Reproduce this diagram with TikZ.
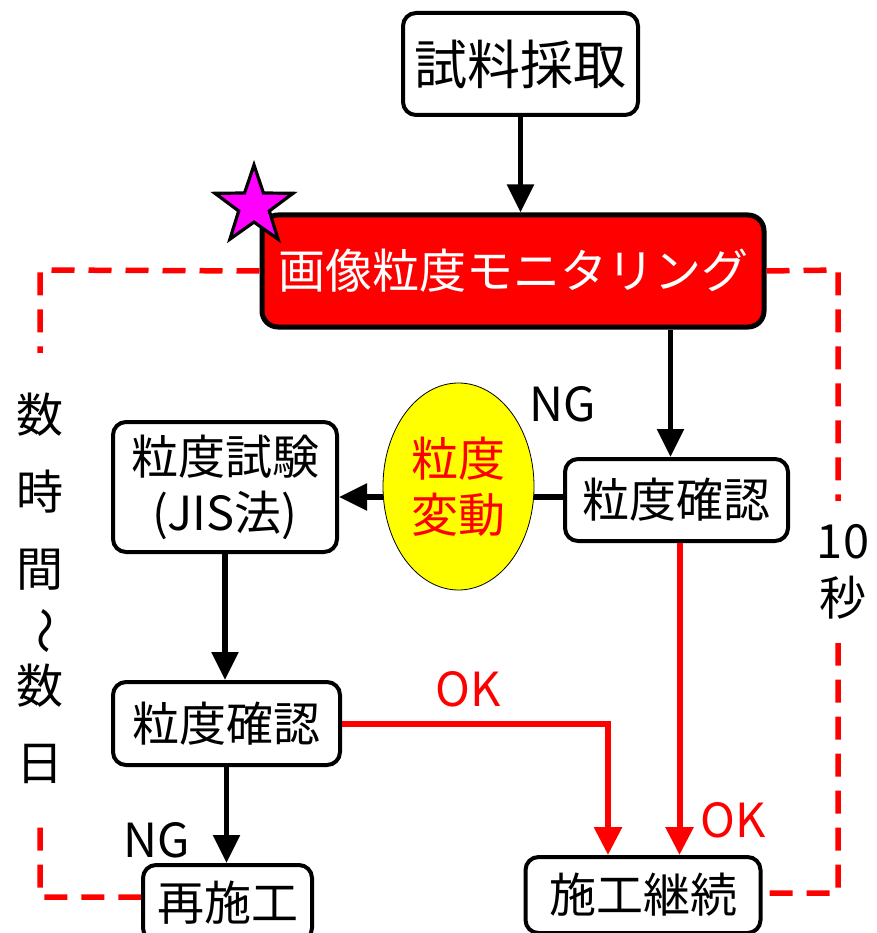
\documentclass[tikz,border=0pt]{standalone}
\usepackage{fontspec}
\setmainfont{Noto Sans CJK JP}
\usetikzlibrary{arrows.meta,shapes.geometric}
\definecolor{mag}{RGB}{255,0,255}
\definecolor{pred}{RGB}{255,0,0}
\definecolor{pyel}{RGB}{255,255,0}
\newcommand\fsz{\fontsize{47}{56}\selectfont}
\newcommand\fbig{\fontsize{53}{60}\selectfont}
\begin{document}
\begin{tikzpicture}[x=1pt,y=-1pt,
  box/.style={draw=black,line width=4pt,rounded corners=13pt,fill=white,inner sep=0pt,align=center,font=\fsz},
  blk/.style={draw=black,line width=5.5pt,-{Triangle[width=26pt,length=28pt]}},
  redar/.style={draw=pred,line width=6pt,-{Triangle[width=27pt,length=28pt]}},
  dashline/.style={draw=pred,line width=5.5pt,dash pattern=on 23pt off 14pt},
  lbl/.style={inner sep=0pt,font=\fsz}]
\useasboundingbox (0,0) rectangle (876,933);

% nodes
\node[box,font=\fbig,minimum width=235,minimum height=102] (take) at (520.5,64) {試料採取};
\node[box,fill=pred,text=white,line width=5pt,rounded corners=16pt,minimum width=502,minimum height=112] (mon) at (513,271) {画像粒度モニタリング};
\node[box,minimum width=223,minimum height=82] (chkR) at (676.5,500) {粒度確認};
\node[box,minimum width=224,minimum height=130] (test) at (225,487) {粒度試験\\(JIS法)};
\node[box,minimum width=227,minimum height=83] (chkL) at (226.5,723.5) {粒度確認};
\node[box,minimum width=169,minimum height=76] (redo) at (227.5,903) {再施工};
\node[box,minimum width=235,minimum height=76] (cont) at (643,895) {施工継続};

\coordinate (L1) at (40,270);
\coordinate (L2) at (40,897);
\coordinate (R1) at (838,270);
\coordinate (R2) at (838,893);

% dashed loops
\draw[dashline] (mon.west) -- (L1) -- (L2) -- (L2 -| redo.west);
\draw[dashline] (mon.east) -- (R1) -- (R2) -- (R2 -| cont.east);

% connectors
\draw[blk] (take.south) -- (mon.north -| take.south);
\draw[blk] ([xshift=-6pt]chkR.north |- mon.south) -- ([xshift=-6pt]chkR.north);
\draw[blk] (chkR.west |- 0,497) -- (test.east |- 0,497);
\draw[blk] (test.south) -- (chkL.north -| test.south);
\draw[blk] (chkL.south) -- (redo.north -| chkL.south);
\draw[redar] (chkL.east) -| ([xshift=-35pt]cont.north);
\draw[redar] ([xshift=3pt]chkR.south) -- ([xshift=3pt]chkR.south |- cont.north);

% ellipse on top
\node[ellipse,draw=black,line width=0.8pt,fill=pyel,text=pred,minimum width=151,minimum height=207,inner sep=0pt,align=center,font=\fsz] (ell) at (458.5,486.5) {粒度\\変動};

% star
\node[star,star points=5,star point ratio=2.55,draw=black,line width=3.2pt,fill=mag,minimum size=82,inner sep=0pt] (st) at (254,206) {};

% labels
\node[lbl] (ng1) at (563,404) {NG};
\node[lbl,text=pred] (ok1) at (468,689) {OK};
\node[lbl,text=pred] (ok2) at (733,820) {OK};
\node[lbl] (ng2) at (157,840) {NG};
\node[fill=white,inner xsep=4pt,inner ysep=24pt,align=center,font=\fontsize{47}{57}\selectfont] (sec) at (843,572) {10\\秒};
\node[fill=white,inner xsep=6pt,inner ysep=40pt,align=center,font=\fontsize{47}{77}\selectfont] (vt) at (40,588) {数\\時\\間\\[-20pt]\smash{\rotatebox[origin=c]{-90}{〜}}\\[-17pt]数\\日};
\end{tikzpicture}
\end{document}
